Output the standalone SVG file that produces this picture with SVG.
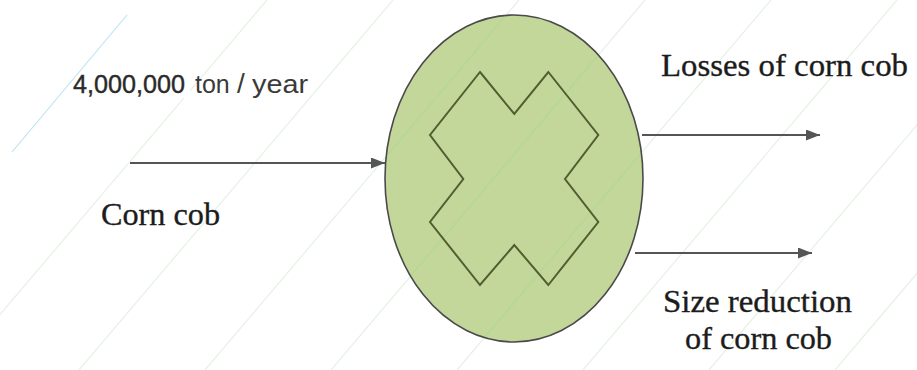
<svg xmlns="http://www.w3.org/2000/svg" width="917" height="370" viewBox="0 0 917 370">
  <defs>
    <marker id="arrow" markerUnits="userSpaceOnUse" markerWidth="14" markerHeight="11" refX="14" refY="5.5" orient="auto">
      <path d="M0,0 L14,5.5 L0,11 Z" fill="#555555"/>
    </marker>
    <clipPath id="ellClip"><ellipse cx="514" cy="178.5" rx="128" ry="162.5"/></clipPath>
  </defs>
  <style>
    .bg { stroke: #b5d6b0; stroke-opacity: 0.32; stroke-width: 1.3; fill: none; }
    .ov { stroke: #a6d890; stroke-opacity: 0.55; stroke-width: 1.4; fill: none; }
    .conn { stroke: #555555; stroke-width: 2; fill: none; marker-end: url(#arrow); }
    .lbl { font-family: "Liberation Serif", "Times New Roman", serif; font-size: 32px; fill: #1c1c1c; stroke: #1c1c1c; stroke-width: 0.35px; }
  </style>
  <rect x="0" y="0" width="917" height="370" fill="#ffffff"/>

  <g id="background-lines">
    <line class="bg" x1="-47" y1="370" x2="267" y2="0"/>
    <line class="bg" x1="79" y1="370" x2="393" y2="0"/>
    <line class="bg" x1="205" y1="370" x2="519" y2="0"/>
    <line class="bg" x1="331" y1="370" x2="645" y2="0"/>
    <line class="bg" x1="457" y1="370" x2="771" y2="0"/>
    <line class="bg" x1="583" y1="370" x2="897" y2="0"/>
    <line class="bg" x1="709" y1="370" x2="1023" y2="0"/>
    <line class="bg" x1="835" y1="370" x2="1149" y2="0"/>
    <rect x="37" y="71" width="153" height="27" fill="#ffffff"/>
    <line x1="12" y1="152" x2="127" y2="15" stroke="#b9e2f2" stroke-width="1.1"/>
  </g>

  <g id="process">
    <ellipse cx="514" cy="178.5" rx="129" ry="163.5" fill="#c4d79b" stroke="#4a4a4a" stroke-width="1.6"/>
    <g clip-path="url(#ellClip)">
      <line class="ov" x1="205" y1="370" x2="519" y2="0"/>
      <line class="ov" x1="331" y1="370" x2="645" y2="0"/>
      <line class="ov" x1="457" y1="370" x2="771" y2="0"/>
      <line class="ov" x1="583" y1="370" x2="897" y2="0"/>
    </g>
    <polygon points="480,72 514.3,114 548.3,72 598.3,135 565,179 598.3,222 548.3,285 514.3,245 480,285 430,222 463.3,179 430,135" fill="none" stroke="#4f5f2f" stroke-width="2"/>
  </g>

  <g id="connectors">
    <line class="conn" x1="130" y1="163" x2="385" y2="163"/>
    <line class="conn" x1="642" y1="135" x2="820" y2="135"/>
    <line class="conn" x1="635" y1="253" x2="812" y2="253"/>
  </g>

  <g id="label-input-amount">
    <text font-family="'Liberation Sans', Arial, sans-serif" font-size="25" fill="#3a3a3a" y="93"><tspan x="73" textLength="112" lengthAdjust="spacingAndGlyphs" fill="#2a2a2a" stroke="#2a2a2a" stroke-width="0.4">4,000,000</tspan> <tspan x="195">ton</tspan><tspan x="237" font-size="28">/</tspan><tspan x="252" textLength="56" lengthAdjust="spacingAndGlyphs">year</tspan></text>
  </g>
  <g id="label-input">
    <text class="lbl" x="101" y="224.5" textLength="119" lengthAdjust="spacingAndGlyphs">Corn cob</text>
  </g>
  <g id="label-losses">
    <text class="lbl" x="661" y="76" textLength="247" lengthAdjust="spacingAndGlyphs">Losses of corn cob</text>
  </g>
  <g id="label-size-reduction">
    <text class="lbl" x="663" y="311.5" textLength="189" lengthAdjust="spacingAndGlyphs">Size reduction</text>
    <text class="lbl" x="685" y="349" textLength="147" lengthAdjust="spacingAndGlyphs">of corn cob</text>
  </g>
</svg>
